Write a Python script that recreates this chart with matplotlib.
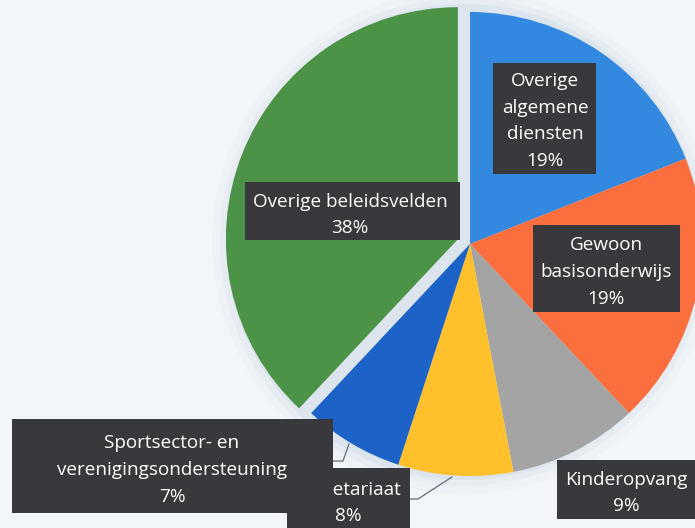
import matplotlib.pyplot as plt
from matplotlib.patches import Rectangle, Circle

W, H = 695, 528

# slices, clockwise from the top
names = ["Overige algemene diensten", "Gewoon basisonderwijs", "Kinderopvang",
         "Secretariaat", "Sportsector- en verenigingsondersteuning",
         "Overige beleidsvelden"]
label_lines = [["Overige", "algemene", "diensten"], ["Gewoon", "basisonderwijs"],
               ["Kinderopvang"], ["Secretariaat"],
               ["Sportsector- en", "verenigingsondersteuning"],
               ["Overige beleidsvelden"]]
shares = [19, 19, 9, 8, 7, 38]
colors = ["#3388e0", "#fb6e3e", "#a4a4a4", "#fec12b", "#1d62c7", "#4c9347"]

# label boxes in picture pixels (left, top, right, bottom) and text centres
boxes = [(493, 63, 596, 174), (533, 225, 680, 312), (557, 460, 700, 519),
         (287, 468, 410, 540), (12, 419, 333, 513), (245, 182, 460, 240)]
text_xy = [(545, 119), (606, 270), (626, 491), (348, 501), (172, 468), (350, 213)]
line_gap = 26.5

cx, cy, r = 470, 244, 232
explode = [0, 0, 0, 0, 0, 13]   # pie() takes this in data units

bg = "#f3f6f9"
fig = plt.figure(figsize=(6.95, 5.28), dpi=100, facecolor=bg)
ax = fig.add_axes([0, 0, 1, 1])
ax.set_facecolor(bg)

# soft bluish halo round the pie
for k, a in [(20, 0.12), (12, 0.22), (6, 0.4)]:
    ax.add_patch(Circle((cx - 6, H - cy + 2), r + k, color="#cdd9e6", alpha=a, lw=0, zorder=0))

ax.pie(shares, colors=colors, startangle=90, counterclock=False,
       center=(cx, H - cy), radius=r, explode=explode,
       wedgeprops=dict(linewidth=0), frame=True)

# leader lines
lc = "#6e7883"
ax.plot([452, 418, 410], [H - 477, H - 499, H - 499], color=lc, lw=1, zorder=3)
ax.plot([349, 343, 333], [H - 444, H - 461, H - 461], color=lc, lw=1, zorder=3)

for i in range(len(shares)):
    l, t, rr, b = boxes[i]
    z = 4 + i * 0.1
    ax.add_patch(Rectangle((l, H - b), rr - l, b - t, facecolor="#39393d",
                           edgecolor="none", zorder=z))
    lines = label_lines[i] + [f"{shares[i]}%"]
    n = len(lines)
    for j, s in enumerate(lines):
        y = text_xy[i][1] + (j - (n - 1) / 2) * line_gap
        ax.text(text_xy[i][0], H - y, s, ha="center", va="center_baseline",
                color="white", fontsize=13.6, family="Open Sans", zorder=z + 0.05)

ax.set_xlim(0, W)
ax.set_ylim(0, H)
ax.set_aspect("auto")
ax.axis("off")
fig.savefig("out.png", dpi=100, facecolor=fig.get_facecolor())
